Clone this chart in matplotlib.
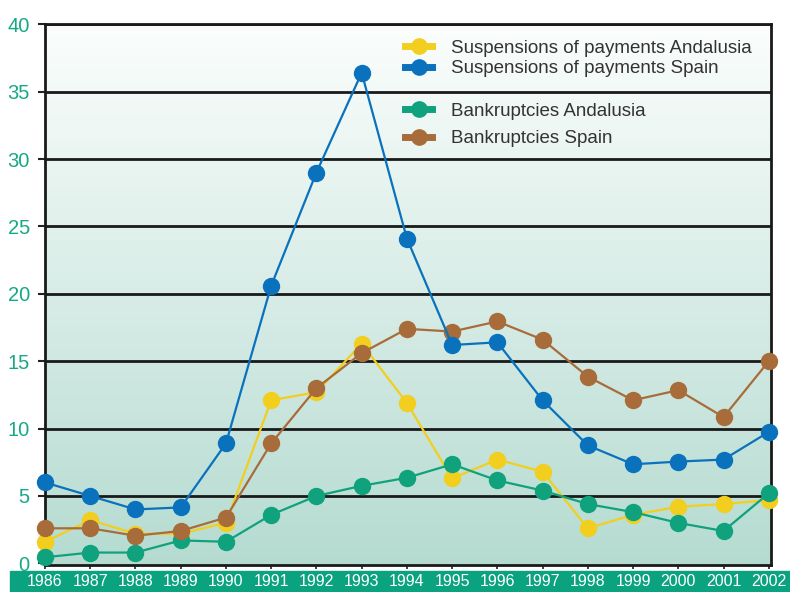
import numpy as np
import matplotlib
matplotlib.use("Agg")
import matplotlib.pyplot as plt
from matplotlib.lines import Line2D
from matplotlib.patches import Rectangle

plt.rcParams["font.family"] = ["Liberation Sans", "DejaVu Sans"]

years = list(range(1986, 2003))

susp_andalusia = [1.6, 3.2, 2.2, 2.2, 3.0, 12.1, 12.7, 16.3, 11.9, 6.3, 7.7, 6.8,
                  2.6, 3.6, 4.2, 4.4, 4.7]
susp_spain = [6.0, 5.0, 4.0, 4.15, 8.9, 20.6, 29.0, 36.4, 24.1, 16.2, 16.4, 12.1,
              8.75, 7.35, 7.55, 7.7, 9.75]
bank_andalusia = [0.45, 0.8, 0.8, 1.7, 1.6, 3.6, 5.0, 5.75, 6.35, 7.35, 6.15, 5.4,
                  4.4, 3.8, 3.0, 2.4, 5.2]
bank_spain = [2.6, 2.6, 2.05, 2.4, 3.4, 8.9, 13.0, 15.6, 17.4, 17.2, 17.95, 16.6,
              13.85, 12.1, 12.85, 10.85, 15.0]

yellow = "#f2cf1f"
blue = "#0a72bd"
green = "#0fa27d"
brown = "#a86c3a"
teal_text = "#17a886"

fig = plt.figure(figsize=(7.9, 5.92), dpi=100)
ax = fig.add_axes([0.057, 0.045, 0.919, 0.914])

# soft vertical gradient behind the plot
grad = np.linspace(0, 1, 256).reshape(-1, 1)
top = np.array([0.985, 0.995, 0.99])
bottom = np.array([0.71, 0.86, 0.82])
img = top * (1 - grad[..., None]) + bottom * grad[..., None]
ax.imshow(img, extent=[0, 1, 0, 1], transform=ax.transAxes, aspect="auto",
          zorder=0)

ax.set_xlim(1986, 2002.05)
ax.set_ylim(-0.15, 40)
ax.set_yticks(range(0, 41, 5))
ax.set_xticks(years)
ax.set_xticklabels([str(y) for y in years], color="white", fontsize=11.5)
ax.tick_params(axis="x", direction="out", length=3, width=1.2, pad=3, color="#222222")
ax.tick_params(axis="y", direction="out", length=5, width=1.5, pad=6,
               labelcolor=teal_text, labelsize=14.5, color="#222222")

for v in range(5, 41, 5):
    ax.axhline(v, color="#1a1a1a", lw=2.0, zorder=1)
for s in ax.spines.values():
    s.set_color("#1a1a1a")
    s.set_linewidth(2.0)

line_kw = dict(lw=1.6, marker="o", markersize=11.5, clip_on=False)
ax.plot(years, susp_andalusia, color=yellow, zorder=3, **line_kw)
ax.plot(years, bank_andalusia, color=green, zorder=4, **line_kw)
ax.plot(years, bank_spain, color=brown, zorder=5, **line_kw)
ax.plot(years, susp_spain, color=blue, zorder=6, **line_kw)

# green band under the year labels
fig.patches.append(Rectangle((10 / 790, 0), 1 - 10 / 790, 21 / 592,
                             transform=fig.transFigure, color="#0aa27f", zorder=-1))


def handle(c):
    return Line2D([], [], color=c, lw=5, marker="o", markersize=11)


leg_kw = dict(frameon=False, fontsize=13.5, handlelength=1.45, handletextpad=1.0,
              labelspacing=0.2, labelcolor="#333333", borderpad=0, borderaxespad=0)
leg1 = ax.legend([handle(yellow), handle(blue)],
                 ["Suspensions of payments Andalusia", "Suspensions of payments Spain"],
                 loc="upper left", bbox_to_anchor=(0.496, 0.972), **leg_kw)
ax.add_artist(leg1)
ax.legend([handle(green), handle(brown)],
          ["Bankruptcies Andalusia", "Bankruptcies Spain"],
          loc="upper left", bbox_to_anchor=(0.496, 0.855), **{**leg_kw, "labelspacing": 0.55})

fig.savefig("out.png", dpi=100)
